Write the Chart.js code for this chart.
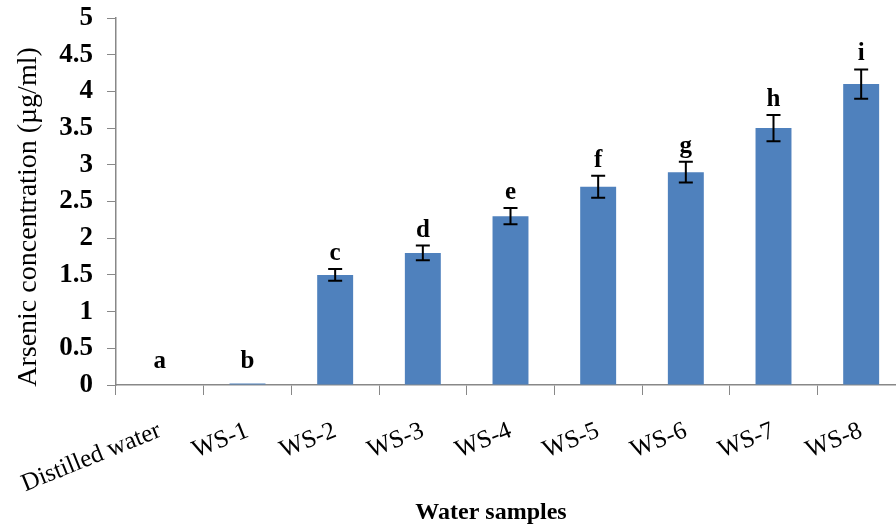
<!DOCTYPE html>
<html>
<head>
<meta charset="utf-8">
<script src="https://cdn.jsdelivr.net/npm/chart.js@4.4.1/dist/chart.umd.min.js"></script>
<style>
  html, body { margin: 0; padding: 0; background: #fff; overflow: hidden; }
  #wrap { width: 905px; height: 529px; }
</style>
</head>
<body>
<div id="wrap"><canvas id="chart" width="905" height="529"></canvas></div>
<script>
const labels = ['Distilled water','WS-1','WS-2','WS-3','WS-4','WS-5','WS-6','WS-7','WS-8']
const values = [0, 0.02, 1.5, 1.8, 2.3, 2.7, 2.9, 3.5, 4.1]
const errors = [0, 0, 0.08, 0.1, 0.11, 0.15, 0.14, 0.18, 0.2]
const letters = ['a','b','c','d','e','f','g','h','i']
const yTicks = [0, 0.5, 1, 1.5, 2, 2.5, 3, 3.5, 4, 4.5, 5]
const xTitle = 'Water samples'
const yTitle = 'Arsenic concentration (µg/ml)'

const serif = "'Liberation Serif', 'Times New Roman', serif"

// error bars, letters and the two axis titles
const extras = {
  id: 'extras',
  afterDatasetsDraw(chart) {
    const ctx = chart.ctx
    const y = chart.scales.y
    const meta = chart.getDatasetMeta(0)
    ctx.save()
    meta.data.forEach((bar, i) => {
      const x = bar.x
      if (errors[i] > 0) {
        const top = y.getPixelForValue(values[i] + errors[i])
        const bot = y.getPixelForValue(values[i] - errors[i])
        ctx.strokeStyle = '#000'
        ctx.lineWidth = 2
        ctx.beginPath()
        ctx.moveTo(x, top); ctx.lineTo(x, bot)
        ctx.moveTo(x - 7, top); ctx.lineTo(x + 7, top)
        ctx.moveTo(x - 7, bot); ctx.lineTo(x + 7, bot)
        ctx.stroke()
      }
      let base = y.getPixelForValue(values[i] + errors[i]) - 9
      base = Math.min(base, y.getPixelForValue(0) - 17)
      ctx.fillStyle = '#000'
      ctx.font = 'bold 25px ' + serif
      ctx.textAlign = 'center'
      ctx.textBaseline = 'alphabetic'
      ctx.fillText(letters[i], x, base)
    })

    ctx.fillStyle = '#000'
    ctx.textAlign = 'center'
    ctx.textBaseline = 'middle'
    ctx.font = 'bold 24px ' + serif
    ctx.fillText(xTitle, 491, 513)

    ctx.translate(29, 217)
    ctx.rotate(-Math.PI / 2)
    ctx.font = '28px ' + serif
    ctx.fillText(yTitle, 0, 0)
    ctx.restore()
  }
}

new Chart(document.getElementById('chart').getContext('2d'), {
  type: 'bar',
  data: {
    labels: labels,
    datasets: [{
      data: values,
      backgroundColor: '#4F81BD',
      borderWidth: 0,
      barPercentage: 0.41,
      categoryPercentage: 1
    }]
  },
  options: {
    responsive: false,
    animation: false,
    layout: { padding: { top: 18, right: 0, left: 0, bottom: 0 } },
    plugins: { legend: { display: false }, tooltip: { enabled: false } },
    scales: {
      x: {
        grid: { display: true, drawOnChartArea: false, drawTicks: true, tickLength: 10, color: '#888', offset: true },
        border: { color: '#888', width: 1.5 },
        ticks: {
          color: '#000',
          font: { family: serif, size: 25 },
          maxRotation: 22, minRotation: 22,
          autoSkip: false,
          padding: 21
        },
        afterFit(scale) {
          scale.height = 144
          scale.paddingLeft = 0
          scale.paddingRight = 0
        }
      },
      y: {
        min: 0, max: 5,
        afterBuildTicks(scale) { scale.ticks = yTicks.map(v => ({ value: v })) },
        grid: { display: true, drawOnChartArea: false, drawTicks: true, tickLength: 9, color: '#888' },
        border: { color: '#888', width: 1.5 },
        ticks: {
          color: '#000',
          font: { family: serif, size: 27, weight: 'bold' },
          padding: 14,
          callback: v => String(v)
        },
        afterFit(scale) {
          scale.width = 116
          scale.paddingTop = 0
          scale.paddingBottom = 0
        }
      }
    }
  },
  plugins: [extras]
})
</script>
</body>
</html>
